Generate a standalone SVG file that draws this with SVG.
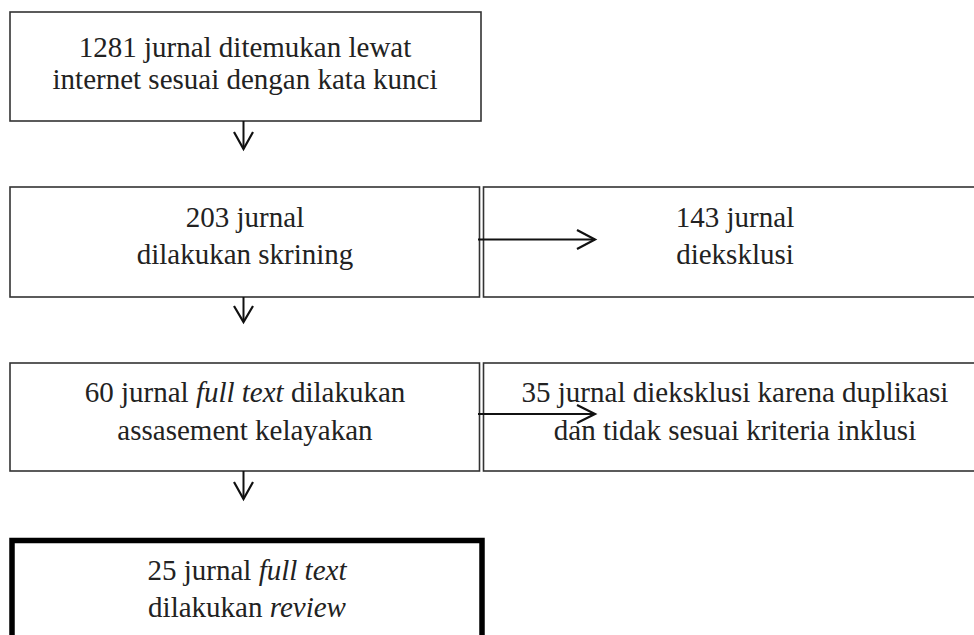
<svg xmlns="http://www.w3.org/2000/svg" width="974" height="635" viewBox="0 0 974 635">
<style>
.box{fill:#fff;stroke:#333;stroke-width:1.6}
.thick{fill:#fff;stroke:#000;stroke-width:5.5}
.t{font-family:"Liberation Serif","Times New Roman",serif;font-size:29px;fill:#222;text-anchor:middle}
.i{font-style:italic}
.c{fill:none;stroke:#111;stroke-width:2}
.h{fill:none;stroke:#111;stroke-width:2.2;stroke-linejoin:miter}
</style>
<rect width="974" height="635" fill="#fff"/>
<g id="n1">
<rect class="box" x="10" y="12" width="471" height="109"/>
<text class="t" x="245" y="57">1281 jurnal ditemukan lewat</text>
<text class="t" x="245" y="89">internet sesuai dengan kata kunci</text>
</g>
<g id="n2">
<rect class="box" x="10" y="187" width="469.5" height="110"/>
<text class="t" x="245" y="227">203 jurnal</text>
<text class="t" x="245" y="264">dilakukan skrining</text>
</g>
<g id="n3">
<rect class="box" x="483.5" y="187" width="500" height="110"/>
<text class="t" x="735" y="227">143 jurnal</text>
<text class="t" x="735" y="264">dieksklusi</text>
</g>
<g id="n4">
<rect class="box" x="10" y="363" width="469.5" height="108"/>
<text class="t" x="245" y="402">60 jurnal <tspan class="i">full text</tspan> dilakukan</text>
<text class="t" x="245" y="440">assasement kelayakan</text>
</g>
<g id="n5">
<rect class="box" x="483.5" y="363" width="500" height="108"/>
<text class="t" x="735" y="402">35 jurnal dieksklusi karena duplikasi</text>
<text class="t" x="735" y="440">dan tidak sesuai kriteria inklusi</text>
</g>
<g id="n6">
<rect class="thick" x="12" y="540.5" width="470" height="130"/>
<text class="t" x="247" y="580">25 jurnal <tspan class="i">full text</tspan></text>
<text class="t" x="247" y="617">dilakukan <tspan class="i">review</tspan></text>
</g>
<g id="connectors">
<line class="c" x1="243.5" y1="121" x2="243.5" y2="149"/>
<polyline class="h" points="234,132 243.5,149 253,132"/>
<line class="c" x1="478" y1="239.5" x2="595" y2="239.5"/>
<polyline class="h" points="577,230 595,239.5 577,249"/>
<line class="c" x1="243.5" y1="297" x2="243.5" y2="322"/>
<polyline class="h" points="234,306 243.5,322 253,306"/>
<line class="c" x1="478" y1="414" x2="595" y2="414"/>
<polyline class="h" points="577,405 595,414 577,423"/>
<line class="c" x1="243.5" y1="471" x2="243.5" y2="499"/>
<polyline class="h" points="234,482 243.5,499 253,482"/>
</g>
</svg>
